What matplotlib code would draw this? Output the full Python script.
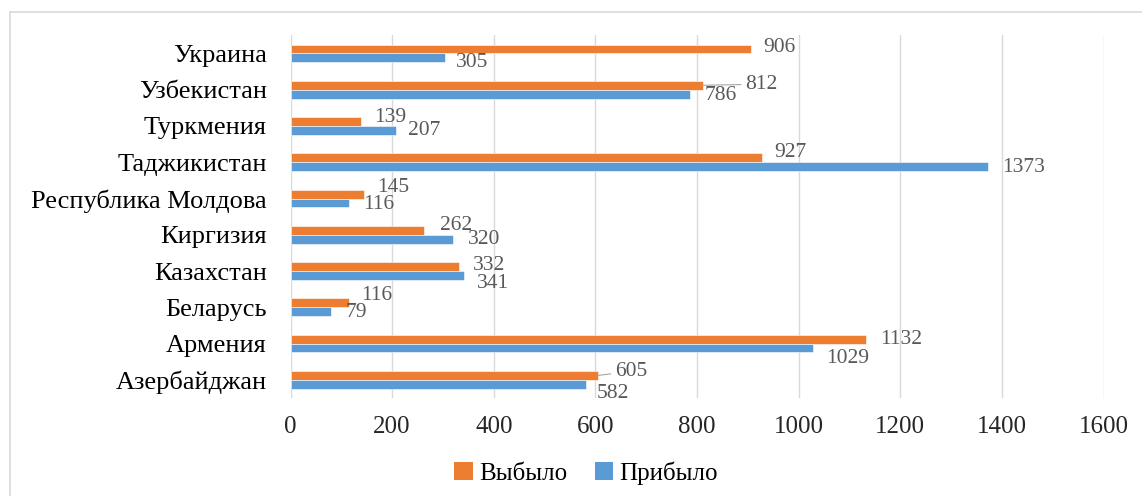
import matplotlib
matplotlib.use('Agg')
import matplotlib.pyplot as plt
import numpy as np
from matplotlib.patches import Patch
from matplotlib.lines import Line2D

plt.rcParams['font.family'] = ['Liberation Serif', 'DejaVu Serif']

# data, bottom to top as drawn
countries = ['Азербайджан', 'Армения', 'Беларусь', 'Казахстан', 'Киргизия',
             'Республика Молдова', 'Таджикистан', 'Туркмения', 'Узбекистан', 'Украина']
left_vals = [605, 1132, 116, 332, 262, 145, 927, 139, 812, 906]      # Выбыло
arrived_vals = [582, 1029, 79, 341, 320, 116, 1373, 207, 786, 305]   # Прибыло
x_ticks = [0, 200, 400, 600, 800, 1000, 1200, 1400, 1600]

# label nudges (pixels): dx from bar end, dy from bar centre
left_dx = [17, 14, 12, 14, 16, 13, 13, 13, 42, 12]
left_dy = [4, 0, 7, 1, 5, 7, 5, 4, 1, 1.5]
arr_dx = [10.5, 13, 15, 13, 15, 14, 14.5, 12, 15, 10.5]
arr_dy = [-9, -10, -1, -8, 0, -1.5, -1, 0, -1, -5]
leader_left = [True, False, False, False, False, False, False, False, True, False]

C_LEFT = '#ED7D31'
C_ARR = '#5B9BD5'
GRID = '#D9D9D9'
LBL = '#595959'

fig = plt.figure(figsize=(11.42, 4.96), dpi=100)
ax = fig.add_axes([290.5 / 1142, 1 - 398 / 496, 813 / 1142, 362.7 / 496])

y = np.arange(len(countries))
bh = 0.245
ax.barh(y + bh / 2, left_vals, height=bh, color=C_LEFT, edgecolor='white',
        linewidth=0.4, zorder=3)
ax.barh(y - bh / 2, arrived_vals, height=bh, color=C_ARR, edgecolor='white',
        linewidth=0.4, zorder=3)

for i in range(len(countries)):
    if leader_left[i]:
        ax.annotate(str(left_vals[i]), xy=(left_vals[i], y[i] + bh / 2),
                    xytext=(left_dx[i], left_dy[i]), textcoords='offset pixels',
                    ha='left', va='center', fontsize=15.5, color=LBL,
                    arrowprops=dict(arrowstyle='-', color='#A6A6A6', lw=0.8,
                                    shrinkA=1, shrinkB=0))
    else:
        ax.annotate(str(left_vals[i]), xy=(left_vals[i], y[i] + bh / 2),
                    xytext=(left_dx[i], left_dy[i]), textcoords='offset pixels',
                    ha='left', va='center', fontsize=15.5, color=LBL)
    ax.annotate(str(arrived_vals[i]), xy=(arrived_vals[i], y[i] - bh / 2),
                xytext=(arr_dx[i], arr_dy[i]), textcoords='offset pixels',
                ha='left', va='center', fontsize=15.5, color=LBL)

ax.set_xlim(0, 1600)
ax.set_ylim(-0.5, len(countries) - 0.5)
ax.set_xticks(x_ticks)
ax.set_xticklabels([str(t) for t in x_ticks], fontsize=18, color='#262626')
ax.set_yticks(y)
ax.set_yticklabels(countries, fontsize=19, color='black')
ax.tick_params(axis='x', length=0, pad=13)
ax.tick_params(axis='y', length=0, pad=17)
ax.grid(axis='x', color=GRID, linewidth=1, zorder=0)
for s in ax.spines.values():
    s.set_visible(False)

handles = [Patch(facecolor=C_LEFT, edgecolor='none', label='Выбыло'),
           Patch(facecolor=C_ARR, edgecolor='none', label='Прибыло')]
fig.legend(handles=handles, loc='center', bbox_to_anchor=(586 / 1142, 1 - 473 / 496),
           ncol=2, frameon=False, fontsize=18, handlelength=0.75, handleheight=0.75,
           handletextpad=0.25, columnspacing=1.1)

# chart area border (left and top edges visible in the crop)
fig.add_artist(Line2D([10 / 1142, 10 / 1142], [0, 1 - 12 / 496], color=GRID, lw=1.2))
fig.add_artist(Line2D([10 / 1142, 1], [1 - 12 / 496, 1 - 12 / 496], color=GRID, lw=1.2))

fig.savefig('out.png', dpi=100)
